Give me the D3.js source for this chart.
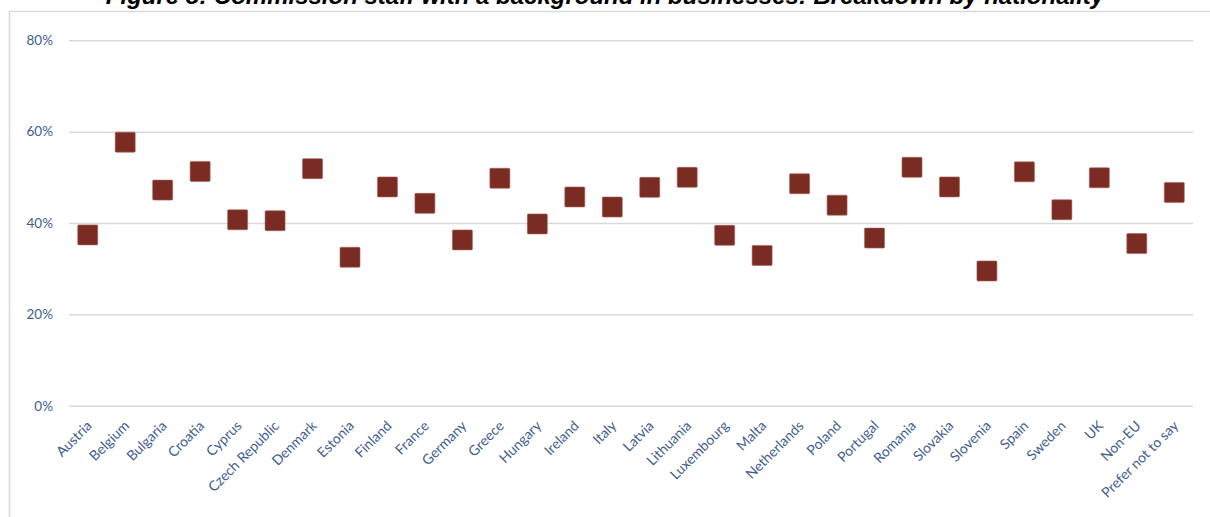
<!DOCTYPE html>
<html>
<head>
<meta charset="utf-8">
<script src="https://cdn.jsdelivr.net/npm/d3@7"></script>
<style>
  html, body { margin: 0; padding: 0; background: #fff; }
  svg { display: block; }
</style>
</head>
<body>
<svg id="chart" width="1210" height="517"></svg>
<script>
// Share of Commission staff with a business background, by nationality
const categories = [
  "Austria", "Belgium", "Bulgaria", "Croatia", "Cyprus", "Czech Republic",
  "Denmark", "Estonia", "Finland", "France", "Germany", "Greece", "Hungary",
  "Ireland", "Italy", "Latvia", "Lithuania", "Luxembourg", "Malta",
  "Netherlands", "Poland", "Portugal", "Romania", "Slovakia", "Slovenia",
  "Spain", "Sweden", "UK", "Non-EU", "Prefer not to say"
];
const shares = [
  0.374, 0.577, 0.472, 0.513, 0.407, 0.405,
  0.519, 0.325, 0.479, 0.443, 0.363, 0.498, 0.398,
  0.457, 0.435, 0.478, 0.500, 0.373, 0.329,
  0.486, 0.439, 0.367, 0.522, 0.479, 0.295,
  0.512, 0.429, 0.499, 0.355, 0.467
];
const yTicks = [0, 0.2, 0.4, 0.6, 0.8];
const title = "Figure 8: Commission staff with a background in businesses: Breakdown by nationality";

const svg = d3.select("#chart");
const labelColor = "#3E5D8F";
const font = "Lato, 'Open Sans', sans-serif";

// outer frame (left and top edges visible)
svg.append("path")
  .attr("d", "M9.5,517 V11.5 H1210")
  .attr("fill", "none")
  .attr("stroke", "#d9d9d9")
  .attr("stroke-width", 1.5);

// title, sitting across the frame's top edge
svg.append("text")
  .attr("x", 605)
  .attr("y", 4)
  .attr("text-anchor", "middle")
  .attr("font-family", "'Liberation Sans', Arial, sans-serif")
  .attr("font-weight", "bold")
  .attr("font-style", "italic")
  .attr("font-size", 24)
  .attr("fill", "#000")
  .text(title);

const x = d3.scaleBand().domain(categories).range([69, 1193]);
const y = d3.scaleLinear().domain([0, 0.8]).range([405.7, 40.3]);

// horizontal gridlines + y tick labels
const yAxis = d3.axisLeft(y)
  .tickValues(yTicks)
  .tickFormat(d3.format(".0%"))
  .tickSize(-(1193 - 69))
  .tickPadding(16);

const gy = svg.append("g")
  .attr("transform", "translate(69,0)")
  .call(yAxis);
gy.select(".domain").remove();
gy.selectAll(".tick line")
  .attr("stroke", "#d9d9d9")
  .attr("stroke-width", 1.5);
gy.selectAll(".tick text")
  .attr("fill", labelColor)
  .attr("font-family", font)
  .attr("font-size", 13.5);

// category labels, rotated
const xAxis = d3.axisBottom(x).tickSize(0).tickPadding(0);
const gx = svg.append("g")
  .attr("transform", "translate(0,405.7)")
  .call(xAxis);
gx.select(".domain").remove();
gx.selectAll(".tick text")
  .attr("fill", labelColor)
  .attr("font-family", font)
  .attr("font-size", 14)
  .attr("text-anchor", "end")
  .attr("dy", null)
  .attr("y", 0)
  .attr("transform", "translate(5,21) rotate(-45)");

// square markers
const size = 20;
svg.append("g")
  .selectAll("rect")
  .data(categories.map((c, i) => ({ c, v: shares[i] })))
  .join("rect")
  .attr("x", d => x(d.c) + x.bandwidth() / 2 - size / 2)
  .attr("y", d => y(d.v) - size / 2)
  .attr("width", size)
  .attr("height", size)
  .attr("rx", 1)
  .attr("fill", "#7B2C22")
  .attr("stroke", "#a2625a")
  .attr("stroke-width", 0.6);
</script>
</body>
</html>
